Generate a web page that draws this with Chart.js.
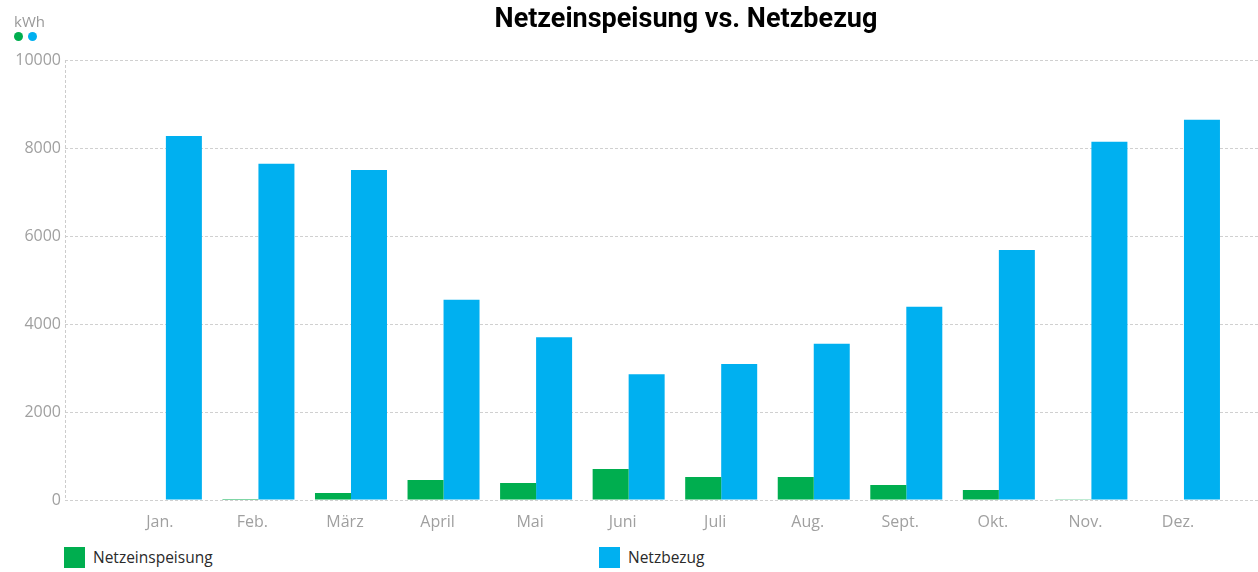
<!DOCTYPE html>
<html>
<head>
<meta charset="utf-8">
<script src="https://cdn.jsdelivr.net/npm/chart.js@4.4.0/dist/chart.umd.min.js"></script>
<style>
  body { margin: 0; width: 1258px; height: 572px; position: relative; background: #fff; font-family: 'Open Sans', sans-serif; overflow: hidden; }
  #wrap { position: absolute; left: 0; top: 0; width: 1258px; height: 540px; }
  #titel { position: absolute; left: 114px; right: 0; top: 2px; text-align: center; font: 700 27px/32px Roboto, sans-serif; color: #000; }
  #einheit { position: absolute; left: 14px; top: 11px; font-size: 15px; color: #999; }
  .punkt { position: absolute; top: 32px; width: 9px; height: 9px; border-radius: 50%; }
  .legende { position: absolute; top: 547px; height: 21px; line-height: 21px; font-size: 15.5px; color: #2a2a2a; padding-left: 29px; }
  .legende span { position: absolute; left: 0; top: 0; width: 21px; height: 21px; }
</style>
</head>
<body>
<div id="wrap"><canvas id="grafik"></canvas></div>
<div id="titel">Netzeinspeisung vs. Netzbezug</div>
<div id="einheit">kWh</div>
<div class="punkt" style="left:14px;background:#00ae4f"></div>
<div class="punkt" style="left:28px;background:#00b0f0"></div>
<div class="legende" style="left:64px"><span style="background:#00ae4f"></span>Netzeinspeisung</div>
<div class="legende" style="left:599px"><span style="background:#00b0f0"></span>Netzbezug</div>
<script>
const monate = ['Jan.', 'Feb.', 'März', 'April', 'Mai', 'Juni', 'Juli', 'Aug.', 'Sept.', 'Okt.', 'Nov.', 'Dez.'];
const netzeinspeisung = [0, 20, 160, 455, 385, 705, 525, 525, 340, 230, 15, 0];
const netzbezug = [8270, 7640, 7500, 4550, 3700, 2860, 3090, 3550, 4390, 5680, 8140, 8640];
const yTicks = [0, 2000, 4000, 6000, 8000, 10000];

const gruen = '#00ae4f';
const blau = '#00b0f0';
const grau = '#a0a0a0';

// gestrichelte Linie links an der Plotfläche
const linkeLinie = {
    id: 'linkeLinie',
    beforeDatasetsDraw(chart) {
        const { ctx, chartArea } = chart;
        ctx.save();
        ctx.strokeStyle = '#cccccc';
        ctx.lineWidth = 1;
        ctx.setLineDash([3, 2]);
        ctx.beginPath();
        ctx.moveTo(chartArea.left + 0.5, chartArea.top);
        ctx.lineTo(chartArea.left + 0.5, chartArea.bottom);
        ctx.stroke();
        ctx.restore();
    }
};

const ctx = document.getElementById('grafik').getContext('2d');
new Chart(ctx, {
    type: 'bar',
    data: {
        datasets: [{
            label: 'Netzeinspeisung',
            data: netzeinspeisung.map((v, i) => ({ x: i, y: v })),
            backgroundColor: gruen,
            categoryPercentage: 0.778,
            barPercentage: 1
        }, {
            label: 'Netzbezug',
            data: netzbezug.map((v, i) => ({ x: i, y: v })),
            backgroundColor: blau,
            categoryPercentage: 0.778,
            barPercentage: 1
        }]
    },
    options: {
        responsive: true,
        maintainAspectRatio: false,
        animation: false,
        layout: { padding: { top: 60, left: 0, right: 0, bottom: 0 } },
        plugins: {
            legend: { display: false },
            tooltip: { enabled: false }
        },
        scales: {
            x: {
                type: 'linear',
                offset: false,
                min: -1.09,
                max: 11.8,
                afterBuildTicks: (scale) => {
                    scale.ticks = monate.map((m, i) => ({ value: i }));
                },
                afterFit: (scale) => { scale.height = 40; },
                grid: { display: false, drawTicks: false },
                border: { display: false },
                ticks: {
                    autoSkip: false,
                    maxRotation: 0,
                    labelOffset: -6,
                    padding: 13,
                    color: grau,
                    font: { family: "'Open Sans', sans-serif", size: 16 },
                    callback: (v) => monate[v] || ''
                }
            },
            y: {
                min: 0,
                max: 10000,
                afterBuildTicks: (scale) => {
                    scale.ticks = yTicks.map(v => ({ value: v }));
                },
                afterFit: (scale) => { scale.width = 65; },
                grid: { color: '#d0d0d0', lineWidth: 1, drawTicks: false },
                border: { display: false, dash: [3, 2] },
                ticks: {
                    padding: 4,
                    color: grau,
                    font: { family: "'Open Sans', sans-serif", size: 16 },
                    callback: (v) => String(v)
                }
            }
        }
    },
    plugins: [linkeLinie]
});
</script>
</body>
</html>
